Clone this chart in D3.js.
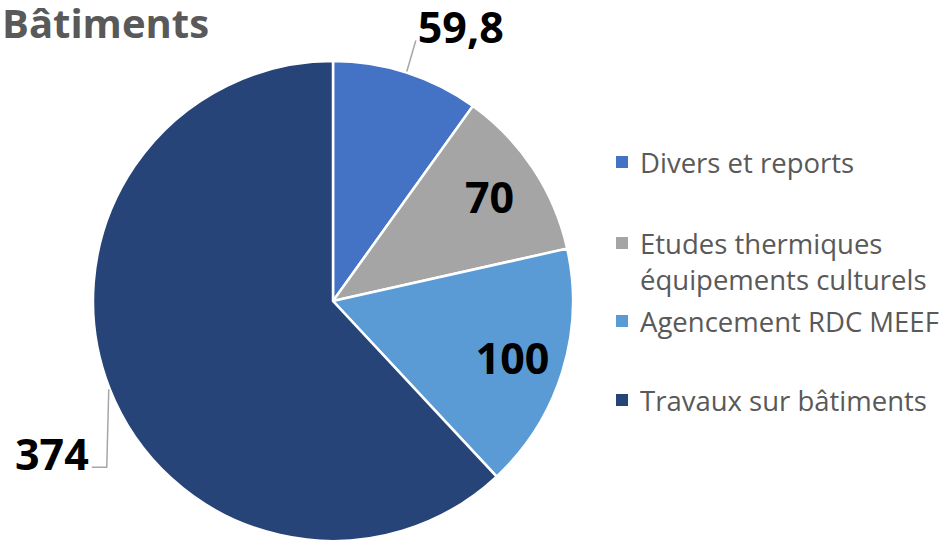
<!DOCTYPE html>
<html>
<head>
<meta charset="utf-8">
<script src="https://cdn.jsdelivr.net/npm/d3@7"></script>
<style>
  body { margin: 0; background: #fff; }
  text { font-family: "Open Sans", "Noto Sans", sans-serif; }
</style>
</head>
<body>
<div id="vis"></div>
<script>
// ---------- DATA ----------
const categories = ["Divers et reports", "Etudes thermiques équipements culturels", "Agencement RDC MEEF", "Travaux sur bâtiments"];
const legendLines = [["Divers et reports"], ["Etudes thermiques", "équipements culturels"], ["Agencement RDC MEEF"], ["Travaux sur bâtiments"]];
const values = [59.8, 70, 100, 374];
const valueLabels = ["59,8", "70", "100", "374"];
const colors = ["#4472C4", "#A5A5A5", "#5B9BD5", "#264478"];

// ---------- FRAME ----------
const FRAME_WIDTH = 945;
const FRAME_HEIGHT = 542;
const CX = 333, CY = 301, RADIUS = 240;

const svg = d3.select("#vis")
  .append("svg")
  .attr("width", FRAME_WIDTH)
  .attr("height", FRAME_HEIGHT);

svg.append("text")
  .attr("x", 2)
  .attr("y", 38)
  .attr("font-size", 40)
  .attr("font-weight", "bold")
  .attr("fill", "#595959")
  .text("Bâtiments");

const pie = d3.pie().sort(null).value(d => d);
const arcs = pie(values);
const arc = d3.arc().innerRadius(0).outerRadius(RADIUS);
const labelArc = d3.arc().innerRadius(190).outerRadius(190);

const g = svg.append("g").attr("transform", `translate(${CX},${CY})`);

g.selectAll("path")
  .data(arcs)
  .enter()
  .append("path")
  .attr("d", arc)
  .attr("fill", (d, i) => colors[i])
  .attr("stroke", "#fff")
  .attr("stroke-width", 2.5);

// point on the rim at the middle of a slice
function rim(d, r) {
  const a = (d.startAngle + d.endAngle) / 2;
  return [r * Math.sin(a), -r * Math.cos(a)];
}

// inside labels (70, 100)
[1, 2].forEach(i => {
  const c = labelArc.centroid(arcs[i]);
  g.append("text")
    .attr("x", c[0] - 2)
    .attr("y", c[1])
    .attr("text-anchor", "middle")
    .attr("dominant-baseline", "central")
    .attr("font-size", 43)
    .attr("font-weight", "bold")
    .attr("fill", "#000")
    .text(valueLabels[i]);
});

// outside label 59,8
const p0 = rim(arcs[0], RADIUS + 1);
g.append("polyline")
  .attr("points", [p0, [p0[0] + 9, p0[1] - 31]].map(p => p.join(",")).join(" "))
  .attr("fill", "none")
  .attr("stroke", "#A6A6A6")
  .attr("stroke-width", 1.5);
g.append("text")
  .attr("x", p0[0] + 11)
  .attr("y", p0[1] - 29)
  .attr("font-size", 43)
  .attr("font-weight", "bold")
  .attr("fill", "#000")
  .text(valueLabels[0]);

// outside label 374
const p3 = rim(arcs[3], RADIUS + 1);
g.append("polyline")
  .attr("points", [p3, [p3[0] - 2, p3[1] + 78], [p3[0] - 17, p3[1] + 78]].map(p => p.join(",")).join(" "))
  .attr("fill", "none")
  .attr("stroke", "#A6A6A6")
  .attr("stroke-width", 1.5);
g.append("text")
  .attr("x", p3[0] - 20)
  .attr("y", p3[1] + 81)
  .attr("text-anchor", "end")
  .attr("font-size", 43)
  .attr("font-weight", "bold")
  .attr("fill", "#000")
  .text(valueLabels[3]);

// ---------- LEGEND ----------
const legendY = [162, 243, 321, 400];
const legend = svg.append("g");
categories.forEach((c, i) => {
  legend.append("rect")
    .attr("x", 616)
    .attr("y", legendY[i] - 6)
    .attr("width", 12)
    .attr("height", 12)
    .attr("fill", colors[i]);
  legendLines[i].forEach((line, j) => {
    legend.append("text")
      .attr("x", 640)
      .attr("y", legendY[i] + j * 36)
      .attr("dominant-baseline", "central")
      .attr("font-size", 27.5)
      .attr("fill", "#595959")
      .text(line);
  });
});
</script>
</body>
</html>
